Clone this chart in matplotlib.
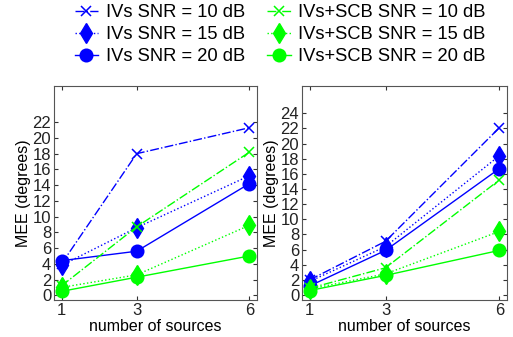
import numpy as np
import matplotlib
matplotlib.use("Agg")
import matplotlib.pyplot as plt

plt.rcParams['font.family'] = ['Liberation Sans', 'DejaVu Sans']

sources = [1, 3, 6]

# left panel
left_ivs10 = [4.0, 18.0, 21.3]
left_ivs15 = [3.8, 8.6, 15.2]
left_ivs20 = [4.4, 5.6, 14.2]
left_scb10 = [1.2, 8.7, 18.2]
left_scb15 = [1.0, 2.6, 8.9]
left_scb20 = [0.5, 2.3, 5.0]

# right panel
right_ivs10 = [2.0, 7.1, 22.1]
right_ivs15 = [1.8, 6.4, 18.4]
right_ivs20 = [1.2, 5.9, 16.7]
right_scb10 = [0.9, 3.6, 15.2]
right_scb15 = [0.8, 2.8, 8.4]
right_scb20 = [0.6, 2.6, 5.9]

labels = ['IVs SNR = 10 dB', 'IVs SNR = 15 dB', 'IVs SNR = 20 dB',
          'IVs+SCB SNR = 10 dB', 'IVs+SCB SNR = 15 dB', 'IVs+SCB SNR = 20 dB']

fig = plt.figure(figsize=(5.13, 3.37), dpi=100)
ax1 = fig.add_axes([54/513, 1-300/337, 203/513, 214/337])
ax2 = fig.add_axes([302/513, 1-300/337, 205/513, 214/337])


def draw(ax, series, ylim, yticks):
    styles = [('b', 'x', '-.', 7), ('b', 'D', ':', 7), ('b', 'o', '-', 9),
              ('#00ff00', 'x', '-.', 7), ('#00ff00', 'D', ':', 7), ('#00ff00', 'o', '-', 9)]
    handles = []
    for vals, (c, m, ls, ms), lab in zip(series, styles, labels):
        if m == 'D':
            h, = ax.plot(sources, vals, color=c, marker='d', ls=ls, lw=1,
                         ms=ms + 3, mfc=c, mec=c, label=lab)
        else:
            h, = ax.plot(sources, vals, color=c, marker=m, ls=ls, lw=1,
                         ms=ms, mfc=c, mec=c, mew=1.1, label=lab)
        handles.append(h)
    ax.set_xlim(0.8, 6.2)
    ax.set_ylim(*ylim)
    ax.set_xticks(sources)
    ax.set_yticks(yticks)
    ax.tick_params(direction='in', labelsize=12, length=3, colors='#333333',
                   labelcolor='#222222', pad=2, top=True, right=True)
    for s in ax.spines.values():
        s.set_color('#555555')
    ax.set_xlabel('number of sources', fontsize=11.5, labelpad=1)
    ax.set_ylabel('MEE (degrees)', fontsize=11.5, labelpad=1)
    return handles


hs = draw(ax1, [left_ivs10, left_ivs15, left_ivs20, left_scb10, left_scb15, left_scb20],
          (-0.6, 26.6), np.arange(0, 23, 2))
draw(ax2, [right_ivs10, right_ivs15, right_ivs20, right_scb10, right_scb15, right_scb20],
     (-0.65, 27.6), np.arange(0, 25, 2))

fig.legend(handles=hs, labels=labels, loc='upper center', bbox_to_anchor=(0.546, 1 - 4/337),
           ncol=2, frameon=False, fontsize=13.2, handlelength=1.3, borderpad=0,
           borderaxespad=0, handletextpad=0.4, columnspacing=1.2, labelspacing=0.28)

fig.savefig('out.png', dpi=100)
